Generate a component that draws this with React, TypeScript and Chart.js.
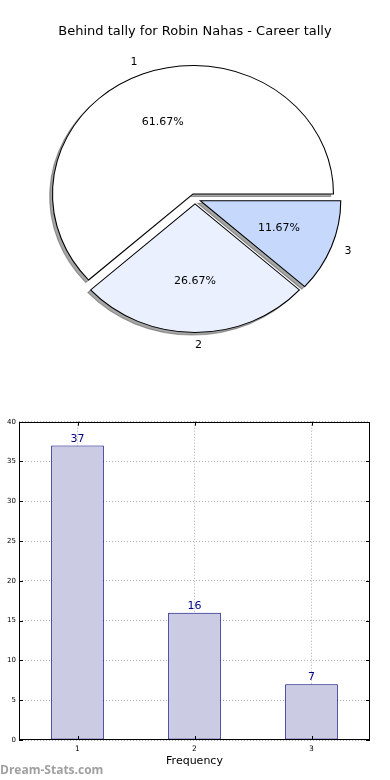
import React, { useEffect, useRef } from "react";
import { Chart, registerables } from "chart.js";

Chart.register(...registerables);

// ---------- data ----------
const TITLE = "Behind tally for Robin Nahas - Career tally";
const PIE_LABELS = ["1", "2", "3"];
const PIE_VALUES = [37, 16, 7];
const PIE_COLORS = ["#ffffff", "#eaf0fe", "#c6d9fd"];

const BAR_CATEGORIES = ["1", "2", "3"];
const BAR_VALUES = [37, 16, 7];
const Y_MIN = 0;
const Y_MAX = 40;
const Y_STEP = 5;
const X_TITLE = "Frequency";
const WATERMARK = "Dream-Stats.com";

// ---------- styles ----------
const FONT = "'DejaVu Sans', sans-serif";
const PIE_W = 390;
const PIE_H = 400;
const PIE_RY = 128.5;
const PIE_SX = 140.5 / 128.5;
const EXPLODE = 5.15;

function PieChart() {
  const ref = useRef<HTMLCanvasElement>(null);
  useEffect(() => {
    if (!ref.current) return;
    const total = PIE_VALUES.reduce((a, b) => a + b, 0);
    // Chart.js draws clockwise; reverse so the wedges sit counter-clockwise from 3 o'clock
    const labels = [...PIE_LABELS].reverse();
    const values = [...PIE_VALUES].reverse();
    const colors = [...PIE_COLORS].reverse();

    const center = (chart: any) => {
      const a = chart.chartArea;
      return [(a.left + a.right) / 2, (a.top + a.bottom) / 2];
    };
    // elliptical squash + explode the wedge outwards along its bisector
    const placeWedge = (chart: any, el: any) => {
      const [cx, cy] = center(chart);
      const ctx = chart.ctx;
      const h = (el.startAngle + el.endAngle) / 2;
      ctx.translate(cx, cy);
      ctx.scale(PIE_SX, 1);
      ctx.translate(-cx, -cy);
      ctx.translate(Math.cos(h) * EXPLODE, Math.sin(h) * EXPLODE);
    };

    const piePlugin = {
      id: "pieDecor",
      beforeDatasetsDraw(chart: any) {
        const ctx = chart.ctx;
        const meta = chart.getDatasetMeta(0);
        // shadow pass: shapes drawn off-canvas, only their shadows land in place
        meta.data.forEach((el: any) => {
          ctx.save();
          ctx.translate(-10000, 0);
          placeWedge(chart, el);
          ctx.shadowColor = "rgba(77,77,77,0.5)";
          ctx.shadowBlur = 0;
          ctx.shadowOffsetX = 10000 - 2.8;
          ctx.shadowOffsetY = 2.6;
          el.draw(ctx);
          ctx.restore();
        });
        // wedge pass
        meta.data.forEach((el: any) => {
          ctx.save();
          placeWedge(chart, el);
          el.draw(ctx);
          ctx.restore();
        });
        return false;
      },
      afterDraw(chart: any) {
        const ctx = chart.ctx;
        const [cx] = center(chart);
        const meta = chart.getDatasetMeta(0);
        ctx.save();
        ctx.fillStyle = "#000";
        ctx.font = `11px ${FONT}`;
        meta.data.forEach((el: any, i: number) => {
          const h = (el.startAngle + el.endAngle) / 2;
          const px = el.x + Math.cos(h) * EXPLODE;
          const py = el.y + Math.sin(h) * EXPLODE;
          const at = (r: number) => [cx + (px + Math.cos(h) * r - cx) * PIE_SX, py + Math.sin(h) * r];
          const [lx, ly] = at(1.1 * el.outerRadius);
          ctx.textBaseline = "middle";
          ctx.textAlign = Math.cos(h) > -1e-6 ? "left" : "right";
          ctx.fillText(labels[i], lx, ly);
          const [tx, ty] = at(0.6 * el.outerRadius);
          ctx.textAlign = "center";
          ctx.fillText(((values[i] / total) * 100).toFixed(2) + "%", tx, ty);
        });
        ctx.font = `13px ${FONT}`;
        ctx.textAlign = "center";
        ctx.textBaseline = "alphabetic";
        ctx.fillText(TITLE, PIE_W / 2, 34.5);
        ctx.restore();
      },
    };

    const chart = new Chart(ref.current, {
      type: "pie",
      data: {
        labels,
        datasets: [
          {
            data: values,
            backgroundColor: colors,
            borderColor: "#000",
            borderWidth: 1,
            borderJoinStyle: "miter",
            clip: false,
          } as any,
        ],
      },
      options: {
        responsive: false,
        animation: false,
        devicePixelRatio: 1,
        rotation: 90,
        radius: PIE_RY,
        layout: { padding: { left: 0, right: 0, top: 0, bottom: 2.4 } },
        plugins: { legend: { display: false }, tooltip: { enabled: false } },
      } as any,
      plugins: [piePlugin],
    });
    return () => chart.destroy();
  }, []);
  return (
    <canvas
      ref={ref}
      width={PIE_W}
      height={PIE_H}
      style={{ position: "absolute", left: 0, top: 0 }}
    />
  );
}

function BarChart() {
  const ref = useRef<HTMLCanvasElement>(null);
  useEffect(() => {
    if (!ref.current) return;
    const barPlugin = {
      id: "barDecor",
      afterDraw(chart: any) {
        const ctx = chart.ctx;
        const a = chart.chartArea;
        const xs = chart.scales.x;
        const ys = chart.scales.y;
        ctx.save();
        // inward tick marks on all four sides
        ctx.strokeStyle = "#000";
        ctx.lineWidth = 1;
        ctx.beginPath();
        ys.ticks.forEach((t: any) => {
          const y = Math.round(ys.getPixelForValue(t.value)) + 0.5;
          ctx.moveTo(a.left, y);
          ctx.lineTo(a.left + 4, y);
          ctx.moveTo(a.right, y);
          ctx.lineTo(a.right - 4, y);
        });
        xs.ticks.forEach((_t: any, i: number) => {
          const x = Math.round(xs.getPixelForTick(i)) + 0.5;
          ctx.moveTo(x, a.bottom);
          ctx.lineTo(x, a.bottom - 4);
          ctx.moveTo(x, a.top);
          ctx.lineTo(x, a.top + 4);
        });
        ctx.stroke();
        // spines
        const l = Math.round(a.left) + 0.5;
        const r = Math.round(a.right) - 0.5;
        const t = Math.round(a.top) + 0.5;
        const b = Math.round(a.bottom) - 0.5;
        ctx.strokeRect(l, t, r - l, b - t);
        // value labels
        const meta = chart.getDatasetMeta(0);
        ctx.fillStyle = "#000088";
        ctx.font = `11px ${FONT}`;
        ctx.textAlign = "center";
        ctx.textBaseline = "alphabetic";
        meta.data.forEach((el: any, i: number) => {
          ctx.fillText(String(BAR_VALUES[i]), el.x, el.y - 4);
        });
        ctx.restore();
      },
    };

    const gridOpts = {
      color: "rgba(0,0,0,0.32)",
      lineWidth: 1,
      drawTicks: false,
    };

    const chart = new Chart(ref.current, {
      type: "bar",
      data: {
        labels: BAR_CATEGORIES,
        datasets: [
          {
            data: BAR_VALUES,
            backgroundColor: "#cbcbe3",
            borderColor: "#00007f",
            borderWidth: 1,
            borderSkipped: false,
            barPercentage: 0.45,
            categoryPercentage: 1,
          },
        ],
      },
      options: {
        responsive: false,
        animation: false,
        devicePixelRatio: 1,
        layout: { padding: { left: 0, right: 20, top: 21.7, bottom: 0 } },
        plugins: { legend: { display: false }, tooltip: { enabled: false } },
        scales: {
          x: {
            type: "category",
            offset: true,
            z: 1,
            grid: { ...gridOpts, offset: false },
            border: { display: false, dash: [1, 2] },
            ticks: { font: { family: FONT, size: 7.5 }, color: "#000", padding: 4.5 },
            title: {
              display: true,
              text: X_TITLE,
              font: { family: FONT, size: 11 },
              color: "#000",
              padding: { top: 0, bottom: 12 },
            },
            afterFit: (s: any) => {
              s.height = 40;
            },
          },
          y: {
            min: Y_MIN,
            max: Y_MAX,
            z: 1,
            grid: gridOpts,
            border: { display: false, dash: [1, 2] },
            ticks: { stepSize: Y_STEP, font: { family: FONT, size: 7 }, color: "#000", padding: 3 },
            afterFit: (s: any) => {
              s.width = 19;
            },
          },
        },
      } as any,
      plugins: [barPlugin],
    });
    return () => chart.destroy();
  }, []);
  return (
    <canvas
      ref={ref}
      width={390}
      height={380}
      style={{ position: "absolute", left: 0, top: 400 }}
    />
  );
}

export default function App() {
  return (
    <div
      style={{
        position: "absolute",
        left: 0,
        top: 0,
        width: 390,
        height: 780,
        background: "#fff",
        overflow: "hidden",
      }}
    >
      <PieChart />
      <BarChart />
      <div
        style={{
          position: "absolute",
          left: 0,
          top: 764,
          fontFamily: "'Open Sans', sans-serif",
          fontWeight: 700,
          fontSize: 12,
          lineHeight: "12px",
          color: "#a0a0a0",
          whiteSpace: "nowrap",
        }}
      >
        {WATERMARK}
      </div>
    </div>
  );
}
